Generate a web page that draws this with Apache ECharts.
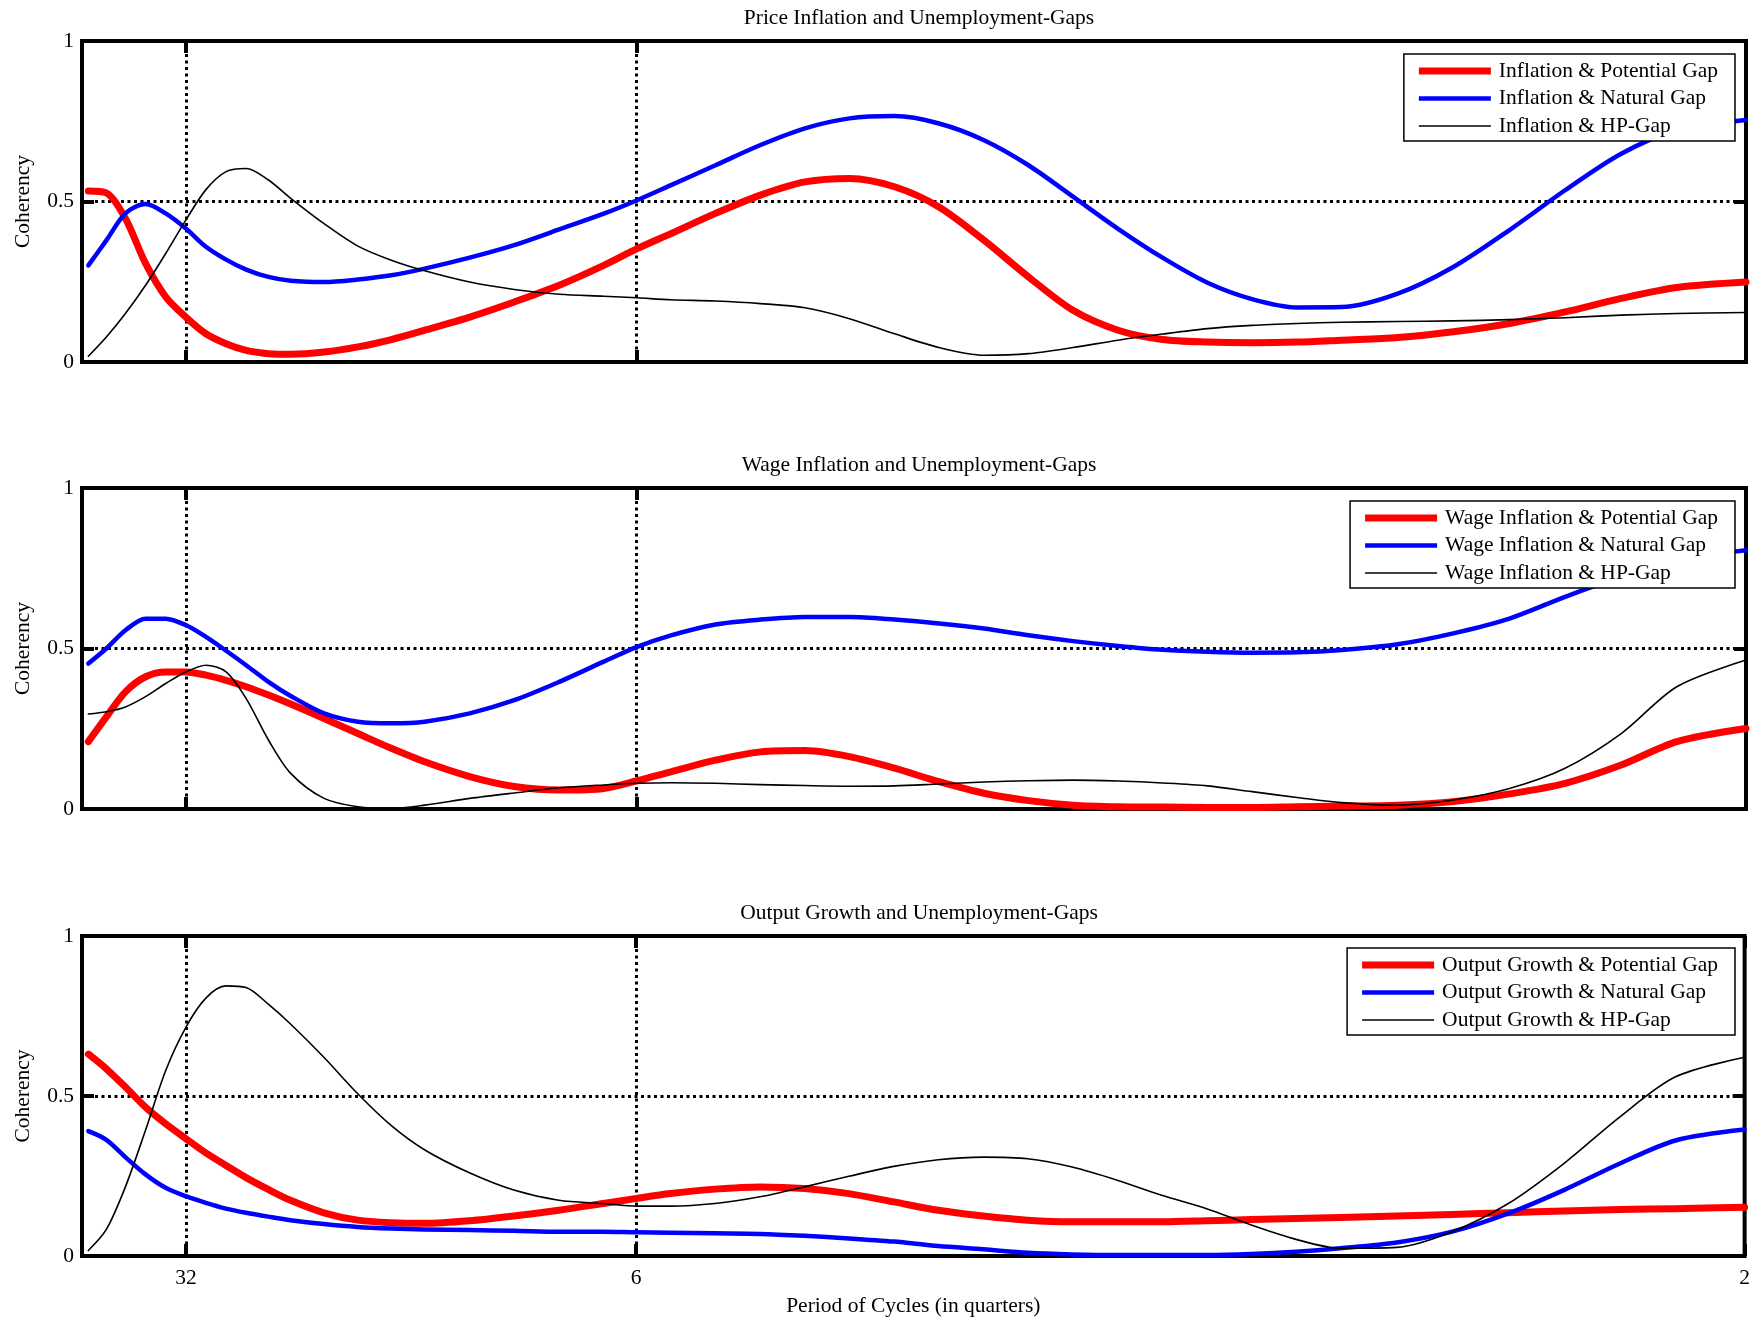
<!DOCTYPE html>
<html>
<head>
<meta charset="utf-8">
<script src="https://cdn.jsdelivr.net/npm/echarts@6/dist/echarts.min.js"></script>
<style>
html,body{margin:0;padding:0;background:#fff;}
#chart{width:1753px;height:1318px;}
</style>
</head>
<body>
<div id="chart"></div>
<script>
// Frequency grid (radians), x positions of sampled points
const freq = [0.012,0.046,0.082,0.120,0.158,0.196,0.234,0.272,0.310,0.352,0.394,0.457,0.521,0.584,0.647,0.732,0.816,0.901,
  0.985,1.048,1.112,1.196,1.281,1.365,1.449,1.534,1.618,1.703,1.787,1.871,1.956,2.040,
  2.125,2.209,2.294,2.378,2.484,2.589,2.695,2.800,2.906,3.011,3.1415];

// Period tick labels (quarters)
const periodTicks = [32, 6, 2];
const yTicks = [0, 0.5, 1];

const panelTitles = [
  'Price Inflation and Unemployment-Gaps',
  'Wage Inflation and Unemployment-Gaps',
  'Output Growth and Unemployment-Gaps'
];
const seriesNames1 = ['Inflation & Potential Gap','Inflation & Natural Gap','Inflation & HP-Gap'];
const seriesNames2 = ['Wage Inflation & Potential Gap','Wage Inflation & Natural Gap','Wage Inflation & HP-Gap'];
const seriesNames3 = ['Output Growth & Potential Gap','Output Growth & Natural Gap','Output Growth & HP-Gap'];

const p1Red = [0.533,0.527,0.447,0.307,0.203,0.140,0.088,0.057,0.036,0.026,0.024,0.031,0.047,0.070,0.099,0.140,0.187,0.239,
  0.301,0.353,0.400,0.463,0.520,0.561,0.572,0.546,0.483,0.379,0.265,0.161,0.099,0.070,
  0.062,0.060,0.062,0.068,0.076,0.094,0.120,0.156,0.198,0.232,0.249];
const p1Blue = [0.301,0.379,0.463,0.492,0.463,0.416,0.359,0.319,0.288,0.265,0.253,0.249,0.257,0.270,0.291,0.325,0.364,0.413,
  0.462,0.504,0.551,0.613,0.676,0.728,0.759,0.766,0.743,0.691,0.613,0.515,0.415,0.325,
  0.247,0.196,0.170,0.171,0.213,0.296,0.411,0.535,0.649,0.722,0.754];
const p1Black = [0.018,0.078,0.151,0.239,0.338,0.442,0.537,0.593,0.603,0.567,0.510,0.431,0.361,0.317,0.284,0.249,0.226,0.211,
  0.205,0.200,0.194,0.190,0.182,0.169,0.135,0.088,0.045,0.021,0.026,0.045,0.068,0.087,
  0.104,0.114,0.120,0.124,0.126,0.128,0.132,0.138,0.146,0.151,0.154];

const p2Red = [0.210,0.287,0.365,0.412,0.427,0.427,0.417,0.401,0.381,0.355,0.327,0.282,0.235,0.189,0.147,0.101,0.070,0.059,
  0.064,0.088,0.116,0.152,0.178,0.182,0.163,0.127,0.085,0.049,0.026,0.012,0.007,0.006,
  0.005,0.005,0.007,0.009,0.012,0.023,0.047,0.080,0.137,0.210,0.251];
const p2Blue = [0.453,0.500,0.557,0.593,0.593,0.573,0.536,0.493,0.448,0.396,0.352,0.298,0.272,0.267,0.272,0.298,0.339,0.396,
  0.459,0.505,0.541,0.575,0.590,0.598,0.598,0.590,0.578,0.562,0.541,0.523,0.508,0.496,
  0.490,0.487,0.488,0.495,0.513,0.547,0.593,0.661,0.723,0.775,0.806];
const p2Black = [0.296,0.303,0.318,0.350,0.391,0.427,0.448,0.427,0.344,0.215,0.111,0.033,0.007,0.002,0.012,0.033,0.050,0.066,
  0.075,0.080,0.082,0.080,0.076,0.073,0.071,0.072,0.078,0.084,0.088,0.090,0.087,0.081,
  0.072,0.054,0.036,0.020,0.012,0.028,0.064,0.127,0.235,0.381,0.464];

const p3Red = [0.631,0.585,0.528,0.465,0.413,0.367,0.322,0.283,0.245,0.208,0.174,0.135,0.112,0.104,0.102,0.110,0.125,0.143,
  0.164,0.180,0.195,0.209,0.216,0.211,0.195,0.169,0.143,0.125,0.112,0.107,0.107,0.107,
  0.110,0.114,0.117,0.120,0.125,0.130,0.135,0.141,0.145,0.148,0.152];
const p3Blue = [0.390,0.363,0.309,0.255,0.213,0.187,0.166,0.148,0.135,0.123,0.112,0.100,0.091,0.086,0.083,0.081,0.079,0.076,
  0.076,0.074,0.073,0.071,0.069,0.063,0.055,0.045,0.031,0.021,0.010,0.005,0.003,0.003,
  0.003,0.006,0.013,0.024,0.042,0.076,0.133,0.206,0.289,0.361,0.395];
const p3Black = [0.017,0.083,0.216,0.393,0.579,0.714,0.806,0.844,0.839,0.787,0.725,0.621,0.507,0.408,0.332,0.260,0.206,0.174,
  0.164,0.156,0.156,0.164,0.185,0.216,0.249,0.280,0.301,0.309,0.304,0.278,0.237,0.190,
  0.148,0.097,0.052,0.024,0.027,0.076,0.164,0.289,0.435,0.560,0.621];

const FONT = "'Liberation Serif','DejaVu Serif',serif";
const FS = 21.5;
const tickPos = periodTicks.map(p => 2 * Math.PI / p);
const panels = [
  {names: seriesNames1, data: [p1Red, p1Blue, p1Black], top: 41, legendTop: 54},
  {names: seriesNames2, data: [p2Red, p2Blue, p2Black], top: 488, legendTop: 501},
  {names: seriesNames3, data: [p3Red, p3Blue, p3Black], top: 936, legendTop: 948}
];
const GRID_H = 321;
const styles = [
  {color: '#ff0000', width: 7},
  {color: '#0000ff', width: 4.5},
  {color: '#000000', width: 1.6}
];
const iconFor = w => 'path://M0,0L72,0L72,' + w + 'L0,' + w + 'Z';

const grid = [], xAxis = [], yAxis = [], series = [], title = [], legend = [];
const tickStyle = {color: '#000', width: 4};
const dotStyle = {color: '#000', width: 3, type: [3, 3.5]};
panels.forEach((p, k) => {
  grid.push({left: 82, right: 7, top: p.top, height: GRID_H, show: true,
    borderColor: '#000', borderWidth: 4, backgroundColor: 'transparent', containLabel: false});
  title.push({text: panelTitles[k], left: 914, top: p.top - 39, textAlign: 'center',
    textStyle: {fontFamily: FONT, fontSize: FS, fontWeight: 'normal', color: '#000'}});
  const isBottom = k === 2;
  xAxis.push({type: 'value', gridIndex: k, min: 0, max: Math.PI, position: 'bottom',
    axisLine: {show: false, onZero: false},
    axisTick: {show: true, inside: true, length: 12, customValues: tickPos, lineStyle: tickStyle},
    axisLabel: {show: isBottom, customValues: tickPos, margin: 11, color: '#000', fontSize: FS, fontFamily: FONT,
      formatter: v => String(Math.round(2 * Math.PI / v))},
    splitLine: {show: true, lineStyle: dotStyle},
    name: isBottom ? 'Period of Cycles (in quarters)' : '',
    nameLocation: 'middle', nameGap: 39,
    nameTextStyle: {color: '#000', fontSize: FS, fontFamily: FONT}
  });
  xAxis.push({type: 'value', gridIndex: k, min: 0, max: Math.PI, position: 'top',
    axisLine: {show: false, onZero: false},
    axisTick: {show: true, inside: true, length: 12, customValues: tickPos, lineStyle: tickStyle},
    axisLabel: {show: false}, splitLine: {show: false}
  });
  yAxis.push({type: 'value', gridIndex: k, min: 0, max: 1, interval: 0.5, position: 'left',
    axisLine: {show: false, onZero: false},
    axisTick: {show: true, inside: true, length: 12, lineStyle: tickStyle},
    axisLabel: {show: true, margin: 8, color: '#000', fontSize: FS, fontFamily: FONT,
      formatter: v => yTicks.indexOf(v) >= 0 ? String(v) : ''},
    splitLine: {show: true, lineStyle: dotStyle},
    name: 'Coherency', nameLocation: 'middle', nameGap: 48, nameRotate: 90,
    nameTextStyle: {color: '#000', fontSize: FS, fontFamily: FONT}
  });
  yAxis.push({type: 'value', gridIndex: k, min: 0, max: 1, interval: 0.5, position: 'right',
    axisLine: {show: false, onZero: false},
    axisTick: {show: true, inside: true, length: 12, lineStyle: tickStyle},
    axisLabel: {show: false}, splitLine: {show: false}
  });
  p.names.forEach((nm, j) => {
    series.push({
      name: nm, type: 'line', xAxisIndex: 2 * k, yAxisIndex: 2 * k,
      data: freq.map((f, i) => [f, p.data[j][i]]),
      showSymbol: false, symbol: 'none', smooth: 0.3,
      lineStyle: {color: styles[j].color, width: styles[j].width, join: 'round', cap: 'round'},
      itemStyle: {color: styles[j].color},
      emphasis: {disabled: true}, animation: false, z: 2 + j
    });
  });
  legend.push({
    data: p.names.map((nm, j) => ({name: nm, icon: iconFor(styles[j].width),
      itemStyle: {color: styles[j].color, borderWidth: 0}})),
    orient: 'vertical', right: 18, top: p.legendTop,
    backgroundColor: '#fff', borderColor: '#000', borderWidth: 1.5, borderRadius: 0,
    padding: [6, 17, 4, 15], itemWidth: 72, itemHeight: 14, itemGap: 5.5,
    symbolKeepAspect: true,
    textStyle: {color: '#000', fontSize: FS, fontFamily: FONT, lineHeight: FS, padding: [0, 0, 0, 3]},
    selectedMode: false
  });
});

const chart = echarts.init(document.getElementById('chart'), null, {renderer: 'canvas'});
chart.setOption({
  backgroundColor: '#fff',
  animation: false,
  title, legend, grid, xAxis, yAxis, series
});
</script>
</body>
</html>
